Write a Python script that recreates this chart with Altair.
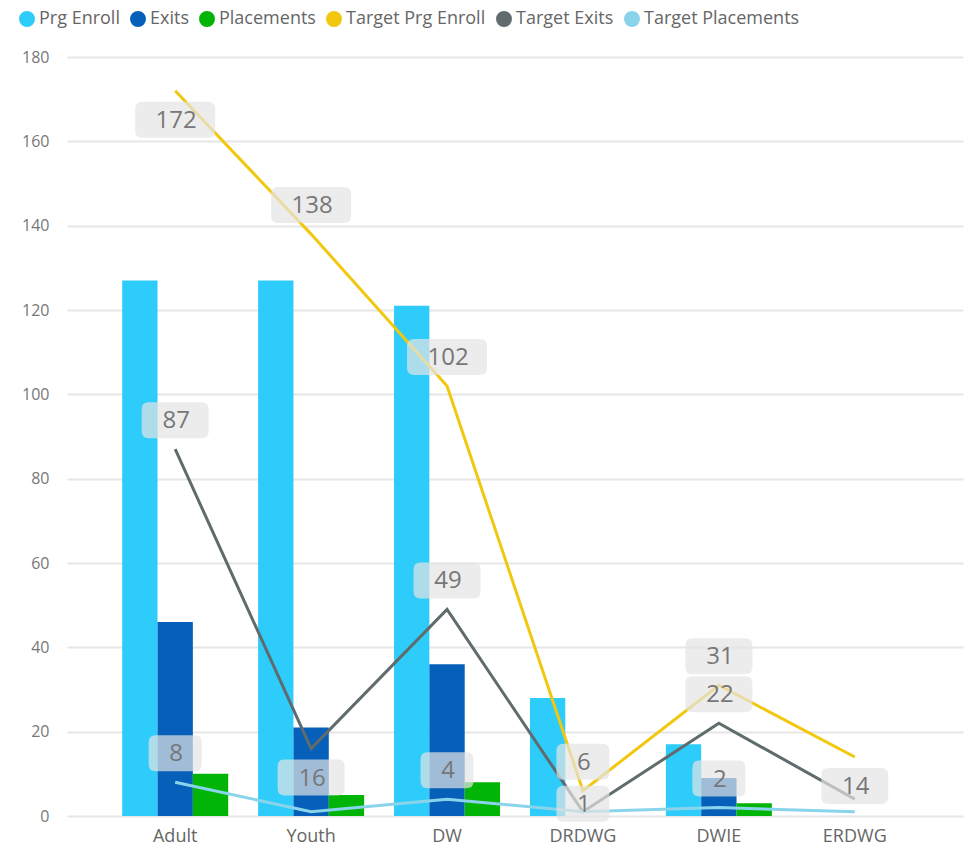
import altair as alt
import pandas as pd

categories = ["Adult", "Youth", "DW", "DRDWG", "DWIE", "ERDWG"]
series_names = ["Prg Enroll", "Exits", "Placements",
                "Target Prg Enroll", "Target Exits", "Target Placements"]
series_colors = ["#2ECCFA", "#065FB8", "#02B405", "#F2C80F", "#5F6B6D", "#8AD4EB"]

prg_enroll = [127, 127, 121, 28, 17, 0]
exits = [46, 21, 36, 0, 9, 0]
placements = [10, 5, 8, 0, 3, 0]
target_prg_enroll = [172, 138, 102, 6, 31, 14]
target_exits = [87, 16, 49, 1, 22, 4]
target_placements = [8, 1, 4, 1, 2, 1]

# label placement style (None = label hidden)
label_place = {
    "Target Prg Enroll": ["below", "above", "above", "above", "above", "below"],
    "Target Exits": ["above", "below", "above", "low", "above", None],
    "Target Placements": ["above", None, "above", None, "above", None],
}
place_offset = {"above": -29, "below": 29, "low": -8}

bar_series = {"Prg Enroll": prg_enroll, "Exits": exits, "Placements": placements}
line_series = {"Target Prg Enroll": target_prg_enroll,
               "Target Exits": target_exits,
               "Target Placements": target_placements}

bar_df = pd.DataFrame([
    {"category": c, "series": s, "value": v}
    for s, vals in bar_series.items() for c, v in zip(categories, vals)
])
line_df = pd.DataFrame([
    {"category": c, "series": s, "value": v}
    for s, vals in line_series.items() for c, v in zip(categories, vals)
])
lab_rows = []
for s, vals in line_series.items():
    for c, v, p in zip(categories, vals, label_place[s]):
        if p is not None:
            lab_rows.append({"category": c, "series": s, "value": v,
                             "label": str(v), "nchar": str(len(str(v))), "place": p})
lab_df = pd.DataFrame(lab_rows)


def box_path(w, h=36, r=7, size_px=80):
    half = size_px / 2.0
    a = (w / 2.0) / half
    b = (h / 2.0) / half
    rr = r / half
    f = lambda x: f"{x:.4f}"
    return (f"M{f(-a + rr)},{f(-b)} L{f(a - rr)},{f(-b)} Q{f(a)},{f(-b)} {f(a)},{f(-b + rr)} "
            f"L{f(a)},{f(b - rr)} Q{f(a)},{f(b)} {f(a - rr)},{f(b)} L{f(-a + rr)},{f(b)} "
            f"Q{f(-a)},{f(b)} {f(-a)},{f(b - rr)} L{f(-a)},{f(-b + rr)} Q{f(-a)},{f(-b)} {f(-a + rr)},{f(-b)} Z")


box_paths = [box_path(53), box_path(67), box_path(80)]

x_scale = alt.Scale(domain=categories, paddingInner=0.22, paddingOuter=0.406)
y_scale = alt.Scale(domain=[0, 180], nice=False, zero=True)
color_scale = alt.Scale(domain=series_names, range=series_colors)

x_enc = alt.X("category:N", scale=x_scale, sort=categories, title=None,
              axis=alt.Axis(labelAngle=0, ticks=False, domain=False, grid=False,
                            labelFontSize=18, labelColor="#666666", labelPadding=11))
y_enc = alt.Y("value:Q", scale=y_scale, title=None,
              axis=alt.Axis(values=list(range(0, 181, 20)), ticks=False, domain=False,
                            labelFontSize=16, labelColor="#777777", labelPadding=18,
                            gridColor="#e6e6e6", gridWidth=2))

bars = alt.Chart(bar_df).mark_bar().encode(
    x=x_enc,
    xOffset=alt.XOffset("series:N", sort=["Prg Enroll", "Exits", "Placements"],
                        scale=alt.Scale(paddingInner=0, paddingOuter=0)),
    y=y_enc,
    color=alt.Color("series:N", scale=color_scale, title=None,
                    legend=alt.Legend(orient="none", direction="horizontal",
                                      legendX=-49, legendY=-47,
                                      symbolType="circle", symbolSize=254,
                                      symbolStrokeWidth=0, labelFontSize=18,
                                      labelColor="#666666", labelOffset=3,
                                      columnPadding=9, labelLimit=300)),
)

lines = alt.Chart(line_df).mark_line(strokeWidth=3).encode(
    x=alt.X("category:N", scale=x_scale, sort=categories),
    y=alt.Y("value:Q", scale=y_scale),
    color=alt.Color("series:N", scale=color_scale, legend=None),
)

label_layers = []
for p, off in place_offset.items():
    sub = alt.Chart(lab_df).transform_filter(alt.datum.place == p)
    boxes = sub.mark_point(filled=True, fill="#e4e4e4", opacity=0.7, size=6400,
                           strokeWidth=0, yOffset=off).encode(
        x=alt.X("category:N", scale=x_scale, sort=categories),
        y=alt.Y("value:Q", scale=y_scale),
        shape=alt.Shape("nchar:N", scale=alt.Scale(domain=["1", "2", "3"], range=box_paths),
                        legend=None),
    )
    texts = sub.mark_text(fontSize=24, color="#777777", baseline="middle", align="center",
                          yOffset=off + 1, xOffset=1).encode(
        x=alt.X("category:N", scale=x_scale, sort=categories),
        y=alt.Y("value:Q", scale=y_scale),
        text="label:N",
    )
    label_layers += [boxes, texts]

chart = alt.layer(bars, lines, *label_layers).properties(
    width=896, height=759,
    autosize=alt.AutoSizeParams(type="none"),
    padding={"left": 67, "top": 57, "right": 1, "bottom": 31},
).configure(font="Open Sans").configure_view(stroke=None)

chart.save("out.html", embed_options={"renderer": "svg", "actions": False})
